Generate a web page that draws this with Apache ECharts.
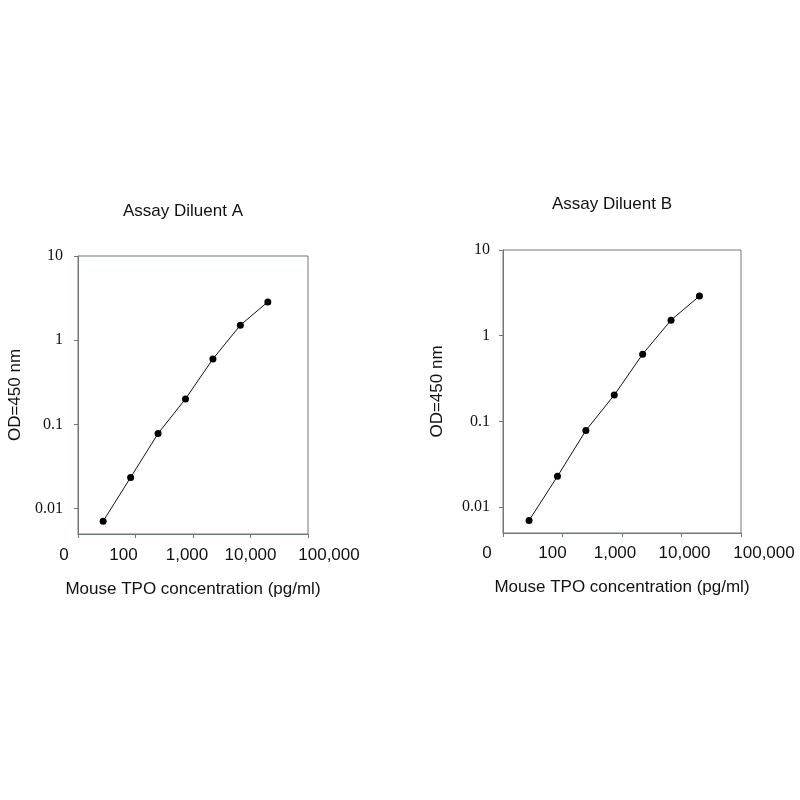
<!DOCTYPE html>
<html>
<head>
<meta charset="utf-8">
<script src="https://cdn.jsdelivr.net/npm/echarts@6/dist/echarts.min.js"></script>
<style>
  html, body { margin: 0; padding: 0; background: #fff; }
  #chart { width: 800px; height: 800px; }
</style>
</head>
<body>
<div id="chart"></div>
<script>
// concentrations (pg/ml), 3-fold dilution series
var conc = [27.4, 82.3, 246.9, 740.7, 2222.2, 6666.7, 20000];
// OD at 450 nm
var odA = [0.0071, 0.0235, 0.078, 0.201, 0.60, 1.51, 2.85];
var odB = [0.0070, 0.0229, 0.0785, 0.203, 0.61, 1.52, 2.90];
var xTicks = [10, 100, 1000, 10000, 100000];
var yTicks = [0.01, 0.1, 1, 10];
var titles = ['Assay Diluent A', 'Assay Diluent B'];
var xName = 'Mouse TPO concentration (pg/ml)';
var yName = 'OD=450 nm';

var myChart = echarts.init(document.getElementById('chart'));

var boxColor = '#6f7878';
var sans = 'Liberation Sans';
var serif = 'Liberation Serif';

// the original spreads its x labels a bit, not centred under each tick (px)
var labelShiftA = [-14, -12, -6, 0, 21];
var labelShiftB = [-16, -10, -7, 3, 23];

function pairs(ys) {
    var out = [];
    for (var i = 0; i < conc.length; i++) {
        out.push([conc[i], ys[i]]);
    }
    return out;
}

function xLabelText(v) {
    if (v <= 10) return '0';  // first decade printed as "0"
    return Math.round(v).toLocaleString('en-US');
}

function xAxisFor(idx, nameGap, margin, shifts) {
    var rich = {};
    for (var i = 0; i < shifts.length; i++) {
        var s = shifts[i];
        rich['s' + i] = {
            fontFamily: sans, fontSize: 17, color: '#111',
            padding: s < 0 ? [0, -2 * s, 0, 0] : [0, 0, 0, 2 * s]
        };
    }
    return {
        gridIndex: idx,
        type: 'log',
        logBase: 10,
        min: 10,
        max: 100000,
        name: xName,
        nameLocation: 'middle',
        nameGap: nameGap,
        nameTextStyle: { fontFamily: sans, fontSize: 17, color: '#111' },
        axisLine: { show: true, onZero: false, lineStyle: { color: boxColor, width: 1 } },
        axisTick: { show: true, inside: false, length: 4, lineStyle: { color: boxColor } },
        minorTick: { show: false },
        splitLine: { show: false },
        axisLabel: {
            margin: margin,
            fontFamily: sans,
            fontSize: 17,
            color: '#111',
            rich: rich,
            formatter: function (v) {
                var k = Math.round(Math.log10(v)) - 1;
                if (k < 0 || k >= shifts.length) return '';
                return '{s' + k + '|' + xLabelText(v) + '}';
            }
        }
    };
}

function yAxisFor(idx, nameGap, margin) {
    return {
        gridIndex: idx,
        type: 'log',
        logBase: 10,
        min: 0.005,
        max: 10,
        name: yName,
        nameLocation: 'middle',
        nameGap: nameGap,
        nameRotate: 90,
        nameTextStyle: { fontFamily: sans, fontSize: 17, color: '#111' },
        axisLine: { show: true, onZero: false, lineStyle: { color: boxColor, width: 1 } },
        axisTick: { show: true, inside: false, length: 4, lineStyle: { color: boxColor }, customValues: yTicks },
        minorTick: { show: false },
        splitLine: { show: false },
        axisLabel: {
            margin: margin,
            fontFamily: serif,
            fontSize: 16,
            color: '#111',
            customValues: yTicks,
            formatter: function (v) {
                var l = Math.log10(v);
                if (Math.abs(l - Math.round(l)) > 1e-6) return '';
                return String(Math.pow(10, Math.round(l)));
            }
        }
    };
}

function seriesFor(idx, ys) {
    return {
        type: 'line',
        xAxisIndex: idx,
        yAxisIndex: idx,
        data: pairs(ys),
        symbol: 'circle',
        symbolSize: 7,
        itemStyle: { color: '#000' },
        lineStyle: { color: '#111', width: 1 },
        silent: true,
        animation: false
    };
}

var option = {
    backgroundColor: '#fff',
    animation: false,
    title: [
        {
            text: titles[0], left: 123, top: 203, padding: 0,
            textStyle: { fontFamily: sans, fontSize: 17, fontWeight: 'normal', color: '#111' }
        },
        {
            text: titles[1], left: 552, top: 196, padding: 0,
            textStyle: { fontFamily: sans, fontSize: 17, fontWeight: 'normal', color: '#111' }
        }
    ],
    grid: [
        { left: 78, top: 256, width: 230, height: 278, show: true, borderColor: boxColor, borderWidth: 1, backgroundColor: 'transparent' },
        { left: 503, top: 250, width: 238, height: 283, show: true, borderColor: boxColor, borderWidth: 1, backgroundColor: 'transparent' }
    ],
    xAxis: [xAxisFor(0, 47, 13, labelShiftA), xAxisFor(1, 46, 12, labelShiftB)],
    yAxis: [yAxisFor(0, 54, 15), yAxisFor(1, 57, 13)],
    series: [seriesFor(0, odA), seriesFor(1, odB)]
};

myChart.setOption(option);
</script>
</body>
</html>
